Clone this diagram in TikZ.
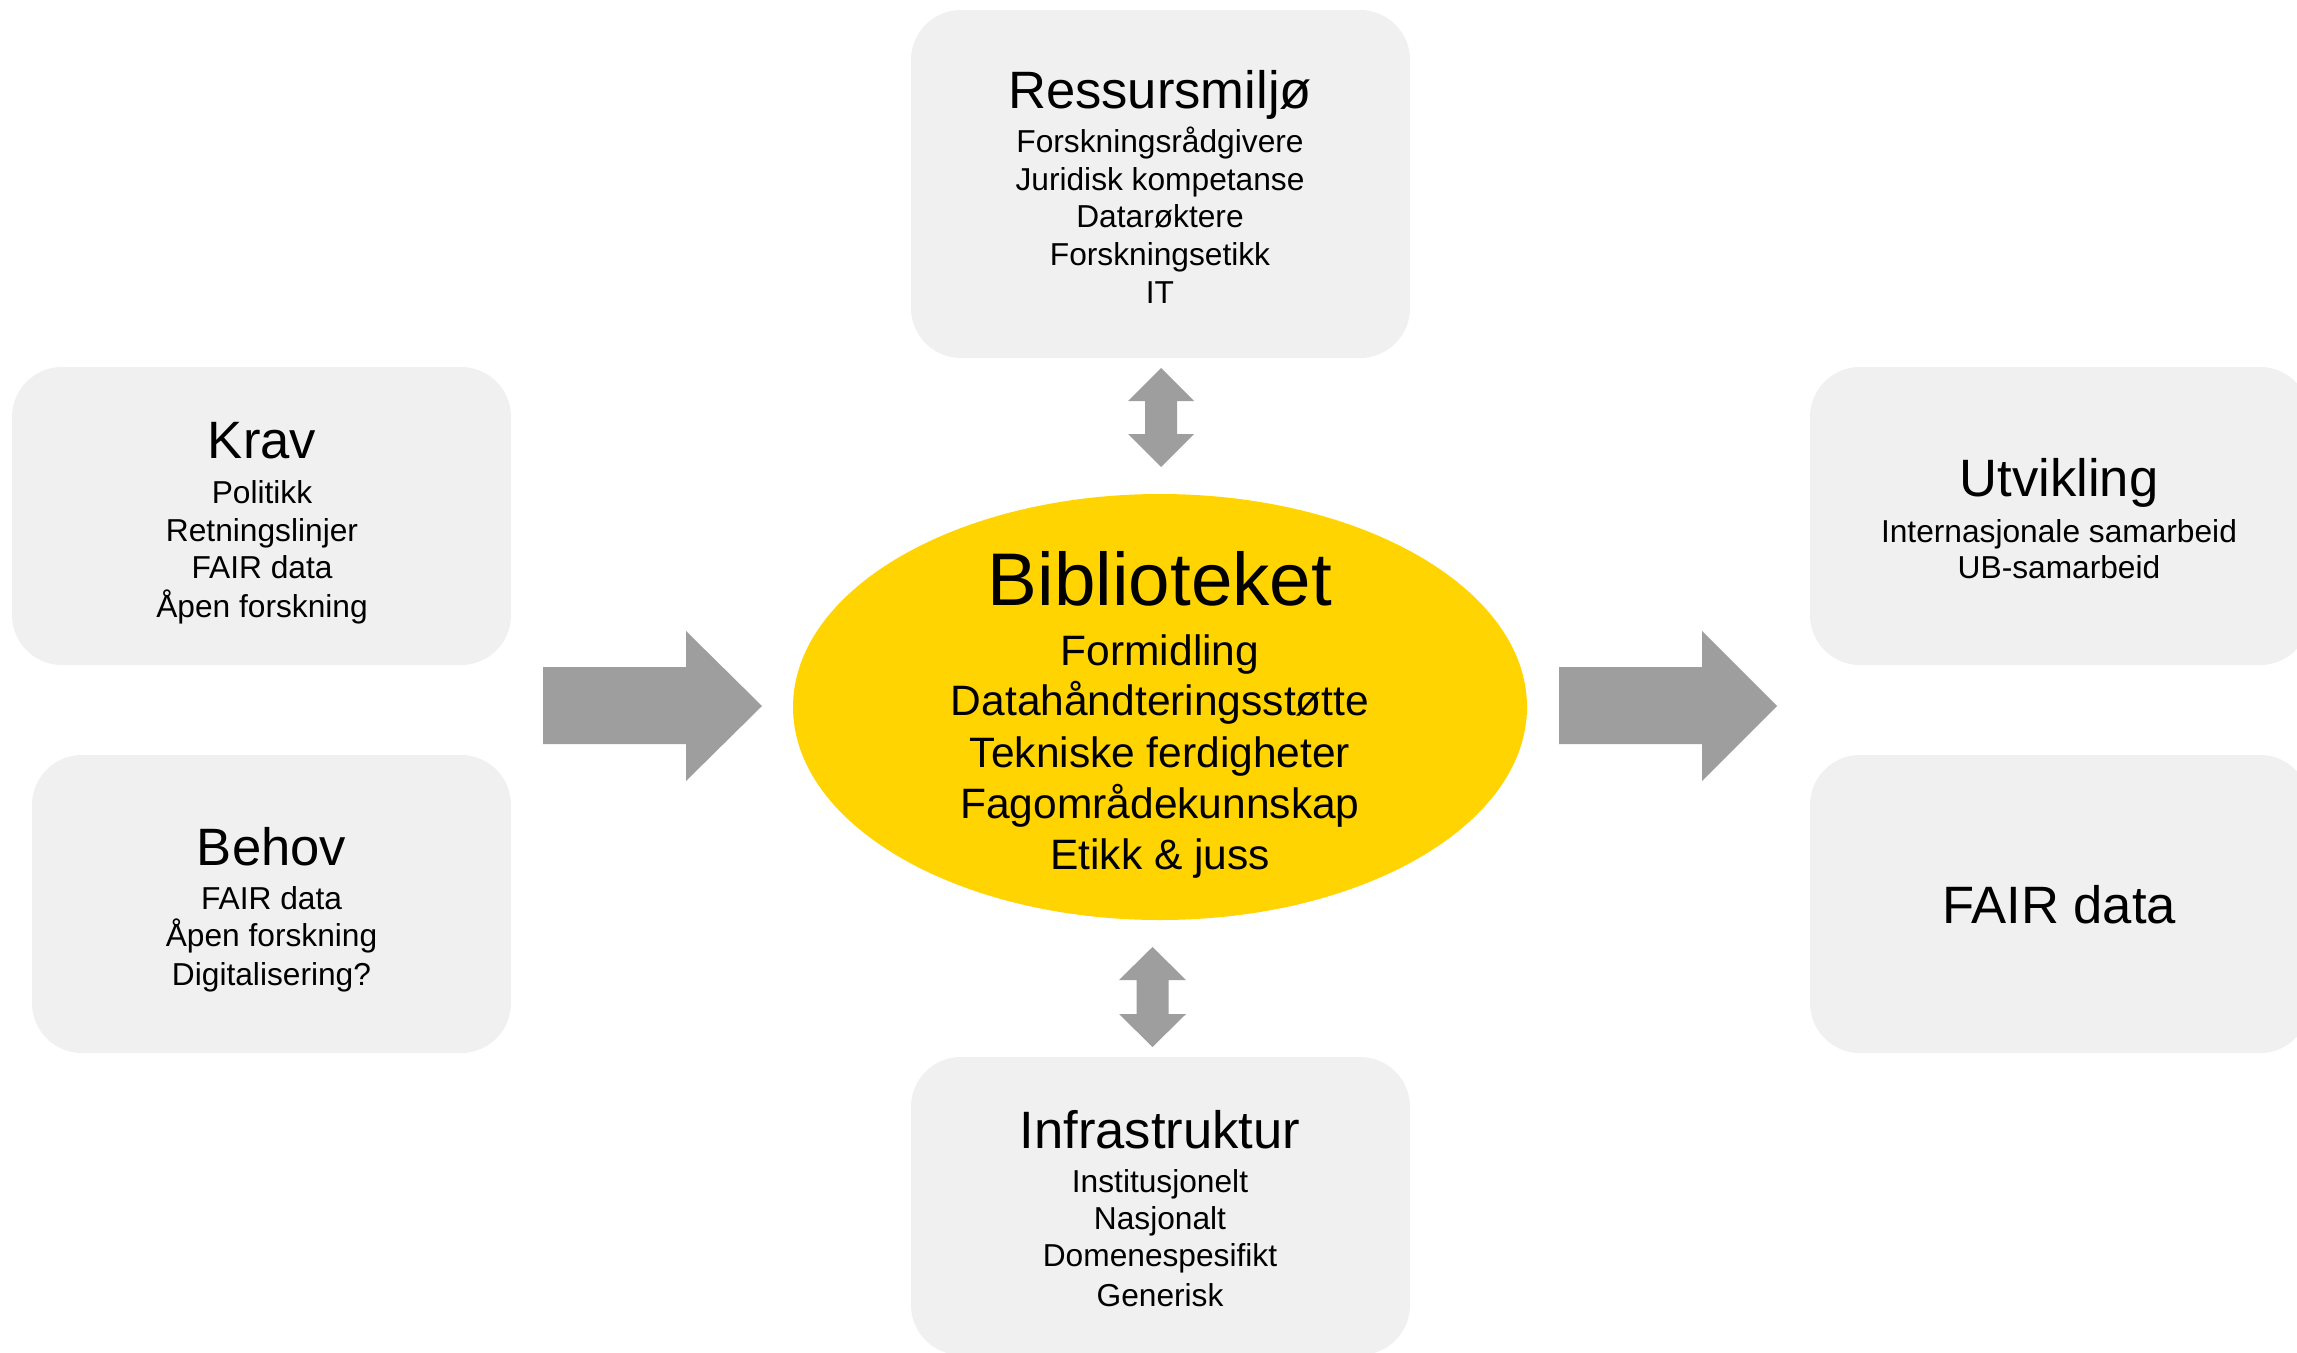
\documentclass[tikz,border=0pt]{standalone}
\usepackage{fontspec}
\setmainfont{Liberation Sans}
\usetikzlibrary{shapes.geometric}
\definecolor{boxgray}{HTML}{F0F0F0}
\definecolor{arrowgray}{HTML}{9E9E9E}
\definecolor{libyellow}{HTML}{FFD400}
\tikzset{
  panel/.style={fill=boxgray, draw=none, rounded corners=50pt, inner sep=0pt},
  hub/.style={ellipse, fill=libyellow, draw=none, inner sep=0pt, minimum width=734pt, minimum height=426pt},
  ttl/.style={anchor=base, inner sep=0pt, font=\fontsize{52.6}{60}\selectfont},
  itm/.style={anchor=base, inner sep=0pt, font=\fontsize{31.7}{38}\selectfont},
  httl/.style={anchor=base, inner sep=0pt, font=\fontsize{74.6}{86}\selectfont},
  hitm/.style={anchor=base, inner sep=0pt, font=\fontsize{42.5}{51}\selectfont},
  blockarrow/.style={fill=arrowgray, draw=none}
}
\begin{document}
\begin{tikzpicture}[x=1pt,y=-1pt]
\useasboundingbox (0,0) rectangle (2297,1352);
\clip (0,0) rectangle (2297,1352);
\fill[white] (0,0) rectangle (2297,1352);

% panels
\node[panel, minimum width=499pt, minimum height=348pt] (ress) at (1160.5,184) {};
\node[panel, minimum width=499pt, minimum height=298pt] (krav) at (261.5,516) {};
\node[panel, minimum width=479pt, minimum height=298pt] (behov) at (271.5,904) {};
\node[panel, minimum width=500pt, minimum height=298pt] (utv) at (2060,516) {};
\node[panel, minimum width=500pt, minimum height=298pt] (fair) at (2060,904) {};
\node[panel, minimum width=499pt, minimum height=298pt] (infra) at (1160.5,1206) {};
\node[hub] (bib) at (1160,707) {};

% block arrows
\fill[blockarrow] (543,667) -- (686,667) -- (686,631) -- (762,706) -- (686,781) -- (686,744) -- (543,744) -- cycle;
\fill[blockarrow] (1559,667) -- (1702,667) -- (1702,631) -- (1777,706) -- (1702,781) -- (1702,744) -- (1559,744) -- cycle;
\fill[blockarrow] (1161,368) -- (1194,401) -- (1177,401) -- (1177,434) -- (1194,434) -- (1161,467) -- (1128,434) -- (1145,434) -- (1145,401) -- (1128,401) -- cycle;
\fill[blockarrow] (1152.5,947) -- (1186,980) -- (1168.5,980) -- (1168.5,1014) -- (1186,1014) -- (1152.5,1047) -- (1119,1014) -- (1136.5,1014) -- (1136.5,980) -- (1119,980) -- cycle;

% Ressursmiljø
\node[ttl] (ress-t) at (1160,108) {Ressursmiljø};
\node[itm] (ress-1) at (1160,152) {Forskningsrådgivere};
\node[itm] (ress-2) at (1160,190) {Juridisk kompetanse};
\node[itm] (ress-3) at (1160,227) {Datarøktere};
\node[itm] (ress-4) at (1160,265) {Forskningsetikk};
\node[itm] (ress-5) at (1160,303) {IT};

% Krav
\node[ttl] (krav-t) at (262,458) {Krav};
\node[itm] (krav-1) at (262,503) {Politikk};
\node[itm] (krav-2) at (262,541) {Retningslinjer};
\node[itm] (krav-3) at (262,578) {FAIR data};
\node[itm] (krav-4) at (262,617) {Åpen forskning};

% Behov
\node[ttl] (behov-t) at (271.5,865) {Behov};
\node[itm] (behov-1) at (271.5,909) {FAIR data};
\node[itm] (behov-2) at (271.5,946.5) {Åpen forskning};
\node[itm] (behov-3) at (271.5,985) {Digitalisering?};

% Utvikling
\node[ttl] (utv-t) at (2059,496) {Utvikling};
\node[itm] (utv-1) at (2059,542) {Internasjonale samarbeid};
\node[itm] (utv-2) at (2059,578) {UB-samarbeid};

% FAIR data
\node[ttl] (fair-t) at (2059,923) {FAIR data};

% Infrastruktur
\node[ttl] (infra-t) at (1160,1148) {Infrastruktur};
\node[itm] (infra-1) at (1160,1192) {Institusjonelt};
\node[itm] (infra-2) at (1160,1229) {Nasjonalt};
\node[itm] (infra-3) at (1160,1266) {Domenespesifikt};
\node[itm] (infra-4) at (1160,1306) {Generisk};

% Biblioteket
\node[httl] (bib-t) at (1160,605) {Biblioteket};
\node[hitm] (bib-1) at (1160,665) {Formidling};
\node[hitm] (bib-2) at (1160,715) {Datahåndteringsstøtte};
\node[hitm] (bib-3) at (1160,767) {Tekniske ferdigheter};
\node[hitm] (bib-4) at (1160,818) {Fagområdekunnskap};
\node[hitm] (bib-5) at (1160,869) {Etikk \& juss};
\end{tikzpicture}
\end{document}
